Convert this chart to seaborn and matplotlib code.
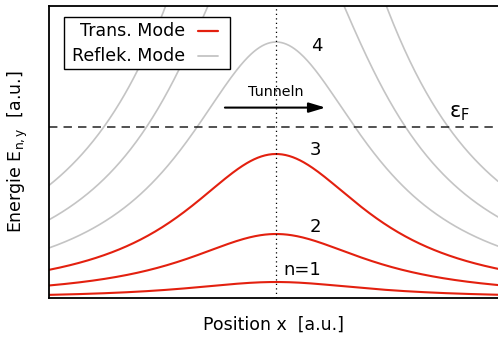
import numpy as np
import pandas as pd
import matplotlib
matplotlib.use("Agg")
import matplotlib.pyplot as plt
from matplotlib.patches import Rectangle
from matplotlib.lines import Line2D
import seaborn as sns

# Subband energies E_n(x) = n^2 * E0 * V(x) along a constriction
trans_modes = [1, 2, 3]          # below the Fermi level at the narrowest point
refl_modes = [4, 5, 6]           # above the Fermi level at the narrowest point
mode_labels = ["n=1", "2", "3", "4"]
label_x = [0.115, 0.175, 0.175, 0.18]
label_y = [1.75, 4.45, 9.25, 15.75]
e0 = 1.0                          # energy unit of the lowest subband peak
width = 0.493                     # half-width of the constriction profile
e_fermi = 10.7                    # Fermi energy
x_range = (-1.0, 0.978)
y_range = (0.0, 18.25)

RED = "#e3200f"
GRAY = "#c4c4c4"

sns.set_style("white")
plt.rcParams["font.family"] = ["DejaVu Sans"]
plt.rcParams["mathtext.fontset"] = "dejavusans"
plt.rcParams["text.color"] = "black"
plt.rcParams["axes.labelcolor"] = "black"

W, H = 498, 338
fig = plt.figure(figsize=(W / 100, H / 100), dpi=100)
ax = fig.add_axes([49 / W, 40 / H, 449 / W, 292 / H])

x = np.linspace(x_range[0], x_range[1], 500)
profile = 1.0 / (1.0 + (x / width) ** 2)

def mode_frame(modes):
    return pd.DataFrame({
        "x": np.tile(x, len(modes)),
        "E": np.concatenate([n ** 2 * e0 * profile for n in modes]),
        "mode": np.repeat(modes, len(x)),
    })

sns.lineplot(data=mode_frame(refl_modes), x="x", y="E", units="mode",
             estimator=None, color=GRAY, linewidth=1.2, ax=ax, legend=False)
sns.lineplot(data=mode_frame(trans_modes), x="x", y="E", units="mode",
             estimator=None, color=RED, linewidth=1.5, ax=ax, legend=False)

ax.set_xlim(*x_range)
ax.set_ylim(*y_range)

# Fermi level and constriction centre
ax.axhline(e_fermi, color="#222222", linewidth=1.1, linestyle=(0, (5.5, 4)))
ax.axvline(0.0, color="black", linewidth=0.9, linestyle=(0, (1, 2.6)))
ax.text(0.81, 11.55, r"$\mathregular{\varepsilon_F}$", fontsize=15,
        ha="center", va="center")

# tunnelling arrow
ax.annotate("", xy=(0.218, 11.9), xytext=(-0.225, 11.9),
            arrowprops=dict(arrowstyle="-|>,head_length=1.0,head_width=0.3",
                            color="black", linewidth=1.5, shrinkA=0, shrinkB=0))
ax.text(0.0, 12.85, "Tunneln", fontsize=10.3, ha="center", va="center")

for lab, lx, ly in zip(mode_labels, label_x, label_y):
    ax.text(lx, ly, lab, fontsize=13, ha="center", va="center")

ax.set_xticks([])
ax.set_yticks([])
for side in ["left", "top", "bottom"]:
    ax.spines[side].set_color("black")
    ax.spines[side].set_linewidth(1.3)
ax.spines["right"].set_visible(False)

ax.set_xlabel("Position x  [a.u.]", fontsize=12.5, labelpad=13)
ax.set_ylabel(r"Energie E$_\mathregular{n,y}$  [a.u.]", fontsize=12.5, labelpad=14)

# key box with samples on the right of the text
def fx(p):
    return p / W

def fy(p):
    return 1 - p / H

fig.patches.append(Rectangle((fx(64), fy(69)), fx(230) - fx(64), fy(17) - fy(69),
                             transform=fig.transFigure, facecolor="white",
                             edgecolor="black", linewidth=1.0, zorder=5))
for name, col, lw, yp in [("Trans. Mode", RED, 1.6, 31), ("Reflek. Mode", GRAY, 1.3, 56)]:
    fig.text(fx(185), fy(yp), name, fontsize=12.5, ha="right", va="center", zorder=6)
    fig.lines.append(Line2D([fx(198), fx(218)], [fy(yp), fy(yp)], color=col,
                            linewidth=lw, transform=fig.transFigure, zorder=6))

fig.savefig("out.png", dpi=100)
